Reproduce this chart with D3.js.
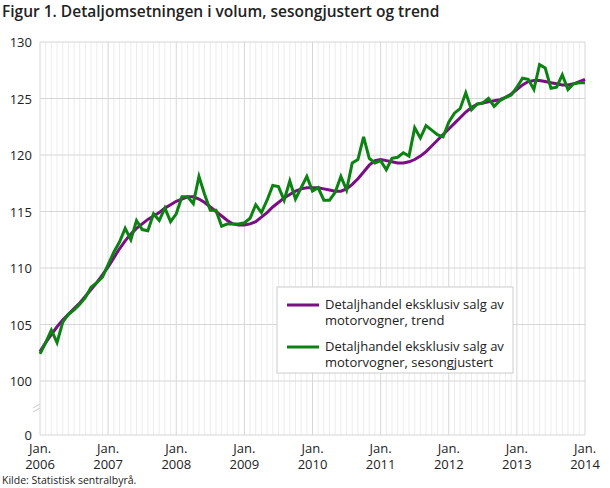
<!DOCTYPE html>
<html><head><meta charset="utf-8">
<script src="https://cdn.jsdelivr.net/npm/d3@7"></script>
<style>body{margin:0;background:#fff;font-family:"Open Sans",sans-serif;}</style>
</head><body><svg id="c" width="610" height="488"></svg>
<script>
const seasonal = [
  102.4,103.4,104.5,103.4,105.2,105.9,106.3,106.8,107.4,108.3,108.7,109.2,
  110.3,111.4,112.3,113.5,112.5,114.2,113.4,113.3,114.8,114.2,115.3,114.1,
  114.8,116.3,116.3,115.7,118.1,116.5,115.1,115.1,113.7,113.9,113.9,113.9,
  114.0,114.4,115.6,114.9,116.0,117.3,117.2,116.0,117.7,116.1,117.1,118.1,
  116.8,117.1,116.0,116.0,116.7,118.1,116.9,119.3,119.6,121.6,119.7,119.3,
  119.5,118.7,119.7,119.8,120.2,119.9,122.4,121.5,122.6,122.2,121.8,121.6,
  122.9,123.7,124.1,125.5,124.0,124.5,124.6,125.0,124.3,124.8,125.1,125.3,
  126.0,126.8,126.7,125.8,128.0,127.7,125.9,126.0,127.1,125.8,126.3,126.4,
  126.4
];
const trend = [
  102.6,103.4,104.1,104.8,105.4,105.9,106.4,106.9,107.5,108.1,108.7,109.4,
  110.1,110.9,111.7,112.4,113.0,113.5,113.9,114.3,114.6,114.9,115.3,115.6,
  115.9,116.1,116.3,116.3,116.1,115.8,115.4,115.0,114.6,114.2,113.9,113.8,
  113.8,113.9,114.1,114.5,114.9,115.4,115.8,116.2,116.5,116.8,117.0,117.1,
  117.1,117.1,117.0,116.9,116.8,116.8,117.0,117.4,117.9,118.5,119.1,119.5,
  119.6,119.5,119.4,119.3,119.3,119.4,119.6,119.9,120.3,120.8,121.3,121.8,
  122.3,122.8,123.3,123.8,124.2,124.5,124.6,124.7,124.8,124.9,125.1,125.4,
  125.8,126.2,126.5,126.6,126.6,126.5,126.4,126.3,126.2,126.2,126.3,126.5,
  126.7
];
const yTicks = [0,100,105,110,115,120,125,130];
const years = [2006,2007,2008,2009,2010,2011,2012,2013,2014];
const seriesNames = ["Detaljhandel eksklusiv salg av|motorvogner, trend","Detaljhandel eksklusiv salg av|motorvogner, sesongjustert"];
const colors = ["#7b0d85","#0b8212"];

const svg = d3.select("#c");
const x = d3.scaleLinear().domain([0,96]).range([40,585]);
const y = d3.scaleLinear().domain([0,100,130]).range([435,381,42]);

svg.append("text").attr("x",2).attr("y",17).style("font-size","15.5px").style("font-weight","600").style("fill","#222")
  .text("Figur 1. Detaljomsetningen i volum, sesongjustert og trend");

// monthly vertical grid
svg.append("g").selectAll("line").data(d3.range(0,97)).enter().append("line")
  .attr("x1",d=>x(d)).attr("x2",d=>x(d)).attr("y1",42).attr("y2",435)
  .style("stroke",d=>d%12===0?"#d6d6d6":"#ececec").style("stroke-width",1);
// horizontal grid
svg.append("g").selectAll("line").data(yTicks).enter().append("line")
  .attr("x1",40).attr("x2",585).attr("y1",d=>y(d)).attr("y2",d=>y(d))
  .style("stroke","#d6d6d6");
svg.append("g").selectAll("text").data(yTicks).enter().append("text")
  .attr("x",32).attr("y",d=>y(d)+5).attr("text-anchor","end")
  .style("font-size","13px").style("fill","#222").text(d=>d);
// axis break mark
svg.append("path").attr("d","M33,408 L40,404 M33,412 L40,408").style("stroke","#ccc").style("fill","none");

const xl = svg.append("g").selectAll("text").data(years).enter().append("text")
  .attr("x",d=>x((d-2006)*12)).attr("y",453).attr("text-anchor","middle")
  .style("font-size","13px").style("fill","#222");
xl.append("tspan").attr("x",d=>x((d-2006)*12)).text("Jan.");
xl.append("tspan").attr("x",d=>x((d-2006)*12)).attr("dy",16).text(d=>d);

svg.append("text").attr("x",2).attr("y",484).style("font-size","10.5px").style("fill","#222").text("Kilde: Statistisk sentralbyrå.");

const line = d3.line().x((d,i)=>x(i)).y(d=>y(d));
svg.append("path").datum(trend).attr("d",line).style("fill","none").style("stroke",colors[0]).style("stroke-width",3);
svg.append("path").datum(seasonal).attr("d",line).style("fill","none").style("stroke",colors[1]).style("stroke-width",3).style("stroke-linejoin","miter");

// legend
const lg = svg.append("g").attr("transform","translate(277,287)");
lg.append("rect").attr("width",236).attr("height",86).style("fill","#fff").style("stroke","#ccc");
seriesNames.forEach((n,i)=>{
  const yy = 22 + i*42;
  lg.append("line").attr("x1",10).attr("x2",42).attr("y1",yy-4).attr("y2",yy-4).style("stroke",colors[i]).style("stroke-width",3);
  const t = lg.append("text").attr("y",yy).style("font-size","13px").style("fill","#222");
  n.split("|").forEach((s,j)=>t.append("tspan").attr("x",48).attr("dy",j?16:0).text(s));
});
</script></body></html>
